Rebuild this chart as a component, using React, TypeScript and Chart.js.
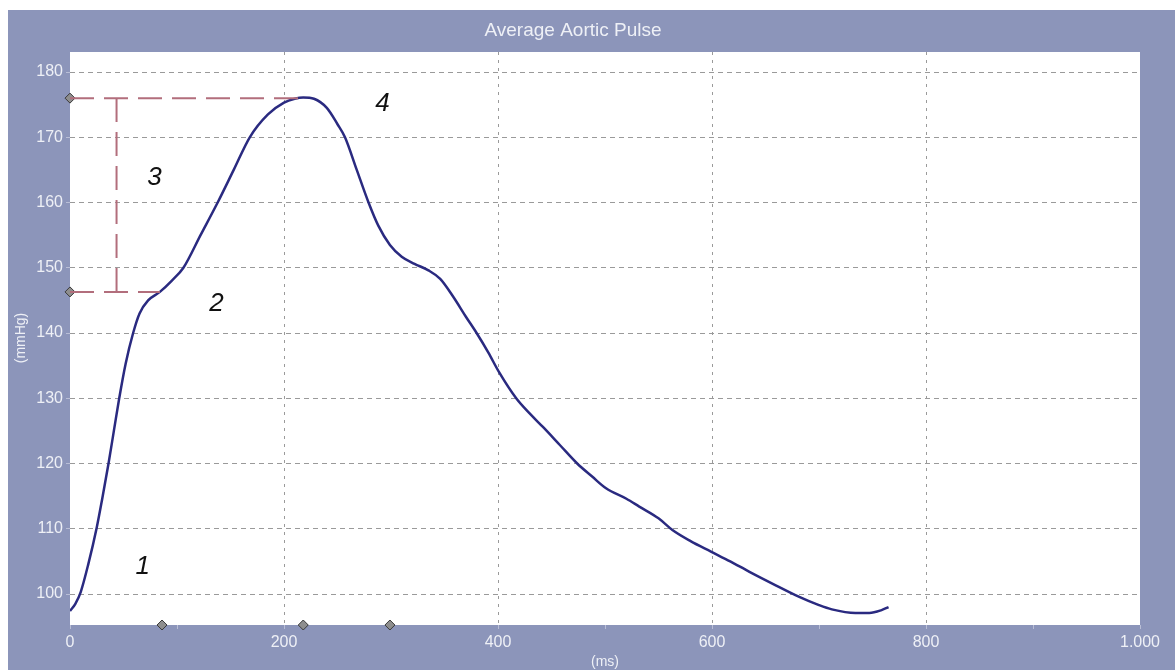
import React, { useEffect, useRef } from "react";
import { Chart, registerables } from "chart.js";

Chart.register(...registerables);

// ---- data ----
const timeMs = [
  0, 5, 10, 17, 25, 30, 36, 41, 46, 52, 59, 65, 73, 84, 95, 106, 122, 138, 153, 168,
  185, 200, 210, 218, 228, 240, 250, 257, 268, 279, 288, 299, 310, 322, 335, 346, 358,
  370, 380, 391, 401, 417, 430, 442, 458, 474, 488, 501, 520, 532, 550, 563, 580, 599,
  617, 635, 660, 681, 700, 712, 734, 747, 758, 765,
];
const pressure = [
  97.4, 98.5, 100.3, 104.5, 110.2, 114.5, 120, 125, 130, 135.3, 140, 143, 145, 146.3, 148,
  150, 155, 160, 165, 170, 173.5, 175.3, 175.9, 176.1, 175.9, 174.5, 172, 170, 165, 160,
  156.5, 153.5, 151.7, 150.6, 149.6, 148.3, 145.6, 142.5, 140, 137, 134, 130, 127.6,
  125.6, 122.8, 120, 118, 116.2, 114.6, 113.4, 111.6, 109.8, 108.1, 106.5, 105, 103.4,
  101.3, 99.6, 98.3, 97.65, 97.1, 97.1, 97.5, 98.0,
];

const xTickValues = [0, 100, 200, 300, 400, 500, 600, 700, 800, 900, 1000];
const xTickLabels = ["0", "", "200", "", "400", "", "600", "", "800", "", "1.000"];
const yTickValues = [100, 110, 120, 130, 140, 150, 160, 170, 180];
const xMin = 0;
const xMax = 1000;
const yMin = 95.25;
const yMax = 183.07;

// marker points (diamonds)
const markerLeftX = [0, 0];
const markerLeftY = [176, 146.3];
const markerBottomX = [86, 218, 299];

// dashed guide lines
const peakLevel = 176;
const shoulderLevel = 146.3;
const peakTime = 218;
const shoulderTime = 84;
const guideTime = 43.5;

// numbered annotations
const annotationLabels = ["1", "2", "3", "4"];
const annotationX = [68, 137, 79, 292];
const annotationY = [104.1, 144.5, 163.8, 175.1];

const titleText = "Average Aortic Pulse";
const xTitle = "(ms)";
const yTitle = "(mmHg)";

const FRAME = "#8C95BA";
const TEXT = "#EEF0F6";
const FONT = '"Liberation Sans", Arial, sans-serif';

const framePlugin = {
  id: "frame",
  beforeDraw(chart: any) {
    const { ctx, chartArea, width, height } = chart;
    ctx.save();
    ctx.fillStyle = FRAME;
    ctx.fillRect(0, 0, width, height);
    ctx.fillStyle = "#ffffff";
    ctx.fillRect(chartArea.left, chartArea.top, chartArea.right - chartArea.left, chartArea.bottom - chartArea.top);
    ctx.restore();
  },
  afterDraw(chart: any) {
    const { ctx, chartArea } = chart;
    const xs = chart.scales.x;
    const ys = chart.scales.y;
    ctx.save();
    // title
    ctx.fillStyle = TEXT;
    ctx.font = `19px ${FONT}`;
    ctx.textAlign = "center";
    ctx.textBaseline = "middle";
    ctx.fillText(titleText, 565, 21);
    // axis titles
    ctx.font = `14px ${FONT}`;
    ctx.fillText(xTitle, (chartArea.left + chartArea.right) / 2, 652);
    ctx.save();
    ctx.translate(13, 328);
    ctx.rotate(-Math.PI / 2);
    ctx.fillText(yTitle, 0, 0);
    ctx.restore();
    // numbered annotations
    ctx.fillStyle = "#111111";
    ctx.font = `italic 26px ${FONT}`;
    annotationLabels.forEach((t, i) => {
      ctx.fillText(t, xs.getPixelForValue(annotationX[i]), ys.getPixelForValue(annotationY[i]));
    });
    ctx.restore();
  },
};

export default function App() {
  const ref = useRef<HTMLCanvasElement>(null);
  useEffect(() => {
    const canvas = ref.current!;
    const guideStyle = {
      borderColor: "#B26E7C",
      borderWidth: 2,
      borderDash: [24, 10],
      pointRadius: 0,
      fill: false,
      showLine: true,
    };
    const diamond = {
      pointStyle: "rectRot",
      pointRadius: 5,
      pointBackgroundColor: "#8E8E8E",
      pointBorderColor: "#3A3A3A",
      pointBorderWidth: 1,
      showLine: false,
      clip: false as any,
    };
    const chart = new Chart(canvas, {
      type: "scatter",
      data: {
        datasets: [
          {
            ...guideStyle,
            data: [
              { x: xMin, y: peakLevel },
              { x: peakTime, y: peakLevel },
            ],
          },
          {
            ...guideStyle,
            data: [
              { x: xMin, y: shoulderLevel },
              { x: shoulderTime, y: shoulderLevel },
            ],
          },
          {
            ...guideStyle,
            data: [
              { x: guideTime, y: shoulderLevel },
              { x: guideTime, y: peakLevel },
            ],
          },
          {
            data: timeMs.map((t, i) => ({ x: t, y: pressure[i] })),
            showLine: true,
            borderColor: "#2A2A80",
            borderWidth: 2.5,
            pointRadius: 0,
            cubicInterpolationMode: "monotone",
            fill: false,
          },
          {
            ...diamond,
            data: markerLeftX.map((x, i) => ({ x, y: markerLeftY[i] })),
          },
          {
            ...diamond,
            data: markerBottomX.map((x) => ({ x, y: yMin })),
          },
        ] as any,
      },
      options: {
        animation: false,
        responsive: false,
        devicePixelRatio: 1,
        layout: { padding: { left: 0, right: 35, top: 42, bottom: 0 } },
        plugins: {
          legend: { display: false },
          tooltip: { enabled: false },
          title: { display: false },
        },
        scales: {
          x: {
            type: "linear",
            min: xMin,
            max: xMax,
            afterBuildTicks: (s: any) => {
              s.ticks = xTickValues.map((v) => ({ value: v }));
            },
            afterFit: (s: any) => {
              s.height = 45;
            },
            ticks: {
              autoSkip: false,
              maxRotation: 0,
              padding: 4,
              color: TEXT,
              font: { family: FONT, size: 16 },
              callback: (_v: any, i: number) => xTickLabels[i],
            },
            grid: {
              color: (c: any) => (c.tick && c.tick.value % 200 === 0 && c.tick.value > 0 && c.tick.value < 1000 ? "#9A9A9A" : "rgba(0,0,0,0)"),
              lineWidth: 1,
              tickBorderDash: [],
              tickColor: "#B9BED6",
              tickLength: 4,
            },
            border: { display: false, dash: [3, 5] },
          },
          y: {
            type: "linear",
            min: yMin,
            max: yMax,
            afterBuildTicks: (s: any) => {
              s.ticks = yTickValues.map((v) => ({ value: v }));
            },
            afterFit: (s: any) => {
              s.width = 62;
            },
            ticks: {
              autoSkip: false,
              padding: 3,
              color: TEXT,
              font: { family: FONT, size: 16 },
              callback: (v: any) => String(v),
            },
            grid: {
              color: "#9A9A9A",
              lineWidth: 1,
              tickBorderDash: [],
              tickColor: "#B9BED6",
              tickLength: 4,
            },
            border: { display: false, dash: [5, 4] },
          },
        },
      } as any,
      plugins: [framePlugin],
    });
    return () => chart.destroy();
  }, []);
  return (
    <div style={{ position: "absolute", left: 8, top: 10, width: 1167, height: 660 }}>
      <canvas ref={ref} width={1167} height={660} style={{ display: "block", width: 1167, height: 660 }} />
    </div>
  );
}
